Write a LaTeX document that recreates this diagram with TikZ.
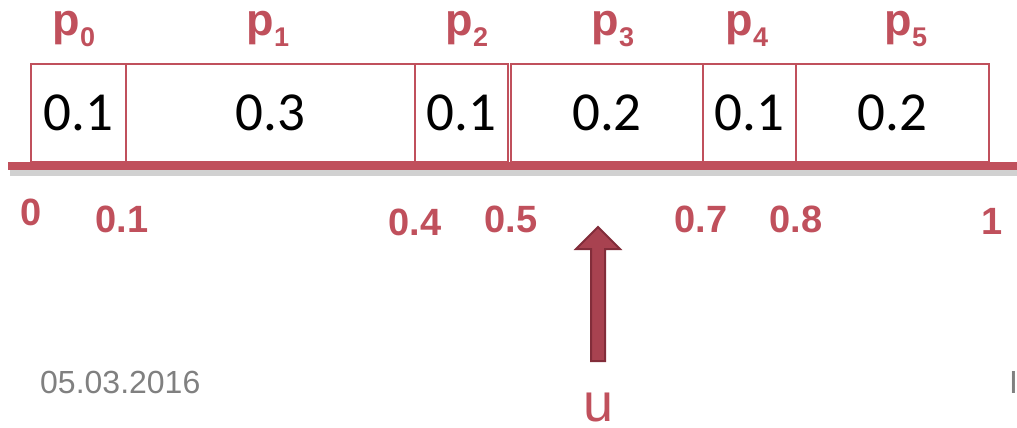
\documentclass[tikz,border=0pt]{standalone}
\usepackage{fontspec}
\setmainfont{Liberation Sans}
\newfontfamily\calfont{Carlito}
\definecolor{pred}{RGB}{192,80,92}
\definecolor{adark}{RGB}{130,45,58}
\definecolor{afill}{RGB}{168,66,80}
\definecolor{dgrey}{RGB}{128,128,128}
\begin{document}
\begin{tikzpicture}[x=1pt,y=-1pt,
  box/.style={draw=pred, line width=1.5pt, inner sep=0pt, minimum height=98pt,
    font=\calfont\fontsize{55}{60}\selectfont, text=black},
  plabel/.style={anchor=base, inner sep=0pt, text=pred, font=\bfseries\fontsize{45}{50}\selectfont},
  tick/.style={anchor=base, inner sep=0pt, text=pred, font=\bfseries\fontsize{38}{42}\selectfont},
  axisline/.style={draw=pred, line width=8pt},
  axisshadow/.style={draw=black, opacity=0.18, line width=7pt},
  uarrow/.style={draw=adark, fill=afill, line width=2pt, line join=miter},
  datetext/.style={anchor=base west, inner sep=0pt, text=dgrey, font=\fontsize{32}{36}\selectfont}
]
\useasboundingbox (0,0) rectangle (1017,428);
\fill[white] (0,0) rectangle (1017,428);
% boxes
\node[box, minimum width=95pt]  (b0) at (78.5,113)  {0.1};
\node[box, minimum width=289pt] (b1) at (270.5,113) {0.3};
\node[box, minimum width=93pt]  (b2) at (461.5,113) {0.1};
\node[box, minimum width=192pt] (b3) at (607,113)   {0.2};
\node[box, minimum width=93pt]  (b4) at (749.5,113) {0.1};
\node[box, minimum width=193pt] (b5) at (892.5,113) {0.2};
% labels above
\node[plabel] (p0) at (74,36)  {p\raisebox{-11pt}{\fontsize{27}{30}\selectfont 0}};
\node[plabel] (p1) at (268,36) {p\raisebox{-11pt}{\fontsize{27}{30}\selectfont 1}};
\node[plabel] (p2) at (467,36) {p\raisebox{-11pt}{\fontsize{27}{30}\selectfont 2}};
\node[plabel] (p3) at (613,36) {p\raisebox{-11pt}{\fontsize{27}{30}\selectfont 3}};
\node[plabel] (p4) at (747,36) {p\raisebox{-11pt}{\fontsize{27}{30}\selectfont 4}};
\node[plabel] (p5) at (906,36) {p\raisebox{-11pt}{\fontsize{27}{30}\selectfont 5}};
% axis
\coordinate (a0) at (8,166);
\coordinate (a1) at (1017,166);
\coordinate (s0) at (10,172);
\coordinate (s1) at (1017,172);
\draw[axisshadow] (s0) -- (s1);
\draw[axisline] (a0) -- (a1);
% tick labels
\node[tick] (t0)  at (31,225)  {0};
\node[tick] (t1)  at (122,232) {0.1};
\node[tick] (t4)  at (415,235) {0.4};
\node[tick] (t5)  at (511,232) {0.5};
\node[tick] (t7)  at (701,232) {0.7};
\node[tick] (t8)  at (796,232) {0.8};
\node[tick] (t10) at (992,234) {1};
% arrow
\coordinate (tip) at (598,227);
\draw[uarrow] (tip) -- ++(22,22) -- ++(-15,0) -- ++(0,112) -- ++(-14,0) -- ++(0,-112) -- ++(-15,0) -- cycle;
% u
\node[anchor=base, inner sep=0pt, text=pred, font=\fontsize{54}{58}\selectfont] (u) at (598.5,421) {u};
% footer
\node[datetext] (date) at (40,393) {05.03.2016};
\node[datetext] (pg) at (1009,393) {I};
\end{tikzpicture}
\end{document}
